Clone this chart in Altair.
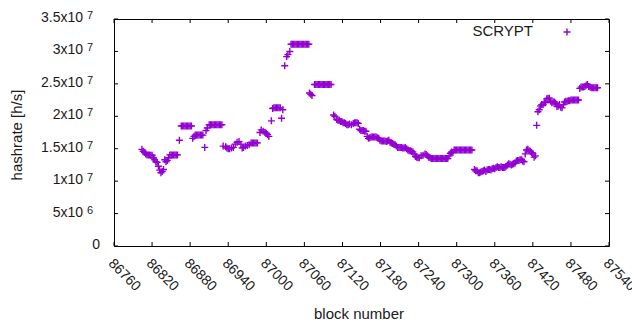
import altair as alt
import pandas as pd

PURPLE = "#9400D3"
FONT = "Liberation Sans"

# block numbers (x) and hashrate in units of 1e6 h/s (y)
blocks = [
    86804, 86806, 86808, 86810, 86812, 86814, 86816, 86818, 86820, 86822,
    86824, 86826, 86828, 86830, 86832, 86834, 86836, 86838, 86840, 86842,
    86844, 86846, 86848, 86850, 86852, 86854, 86856, 86858, 86860, 86863,
    86866, 86868, 86870, 86872, 86874, 86876, 86878, 86880, 86882, 86884,
    86886, 86888, 86890, 86892, 86894, 86896, 86898, 86900, 86903, 86905,
    86907, 86910, 86912, 86914, 86916, 86918, 86920, 86922, 86924, 86926,
    86928, 86930, 86932, 86936, 86938, 86940, 86942, 86945, 86948, 86951,
    86954, 86957, 86960, 86962, 86964, 86967, 86970, 86973, 86976, 86978,
    86980, 86982, 86984, 86986, 86990, 86992, 86995, 86998, 87000, 87002,
    87004, 87008, 87010, 87012, 87014, 87016, 87018, 87020, 87022, 87024,
    87026, 87029, 87032, 87034, 87037, 87039, 87041, 87043, 87045, 87047,
    87049, 87051, 87053, 87055, 87057, 87059, 87061, 87063, 87065, 87067,
    87068, 87070, 87072, 87076, 87078, 87080, 87082, 87084, 87086, 87088,
    87090, 87092, 87094, 87096, 87098, 87100, 87102, 87106, 87108, 87111,
    87113, 87115, 87117, 87119, 87121, 87123, 87125, 87127, 87129, 87131,
    87134, 87137, 87139, 87141, 87143, 87145, 87147, 87149, 87151, 87153,
    87155, 87157, 87159, 87161, 87163, 87165, 87167, 87169, 87171, 87173,
    87175, 87177, 87179, 87181, 87183, 87185, 87187, 87189, 87191, 87193,
    87195, 87197, 87199, 87201, 87203, 87205, 87207, 87209, 87211, 87213,
    87215, 87217, 87219, 87221, 87223, 87225, 87227, 87229, 87231, 87233,
    87235, 87237, 87239, 87241, 87244, 87247, 87250, 87252, 87254, 87256,
    87258, 87260, 87262, 87264, 87266, 87268, 87270, 87272, 87274, 87276,
    87278, 87280, 87282, 87284, 87286, 87288, 87290, 87292, 87294, 87296,
    87298, 87300, 87302, 87304, 87306, 87308, 87310, 87312, 87314, 87316,
    87318, 87320, 87322, 87324, 87328, 87330, 87332, 87334, 87336, 87338,
    87340, 87342, 87344, 87346, 87348, 87350, 87352, 87354, 87356, 87358,
    87360, 87362, 87364, 87366, 87368, 87370, 87372, 87374, 87376, 87378,
    87380, 87382, 87384, 87386, 87388, 87390, 87392, 87394, 87396, 87398,
    87400, 87402, 87404, 87406, 87408, 87410, 87412, 87414, 87416, 87418,
    87420, 87422, 87424, 87426, 87428, 87430, 87432, 87434, 87436, 87438,
    87440, 87442, 87444, 87446, 87448, 87450, 87452, 87454, 87456, 87458,
    87460, 87462, 87464, 87466, 87468, 87470, 87472, 87474, 87476, 87478,
    87480, 87482, 87484, 87486, 87488, 87490, 87492, 87494, 87496, 87498,
    87500, 87502, 87504, 87506, 87508, 87510, 87512, 87514, 87516, 87518,
    87520, 87522,
]
hashrate_mhs = [
    14.9, 14.6, 14.4, 14.2, 14.05, 14.05, 14.05, 14.0, 14.0, 13.6,
    13.3, 13.0, 12.9, 12.3, 11.7, 11.3, 11.5, 11.8, 13.3, 13.0,
    13.2, 13.6, 14.05, 14.05, 14.05, 14.05, 14.05, 14.05, 14.05, 16.3,
    18.5, 18.5, 18.5, 18.5, 18.5, 18.5, 18.5, 18.5, 18.5, 16.6,
    16.9, 17.1, 17.1, 17.1, 17.1, 17.1, 17.1, 17.1, 15.2, 17.8,
    18.2, 18.7, 18.7, 18.7, 18.7, 18.7, 18.7, 18.7, 18.7, 18.7,
    18.7, 18.7, 15.4, 15.3, 15.1, 15.0, 15.0, 15.1, 15.2, 15.7,
    16.0, 16.1, 15.7, 15.1, 15.2, 15.4, 15.5, 15.6, 15.9, 15.9,
    15.9, 15.9, 15.9, 15.9, 17.5, 17.9, 17.7, 17.5, 17.4, 17.2,
    16.9, 19.3, 21.2, 21.3, 21.3, 21.3, 21.3, 21.3, 21.3, 19.7,
    21.0, 27.8, 29.2, 29.5, 30.0, 31.1, 31.1, 31.1, 31.1, 31.1,
    31.1, 31.1, 31.1, 31.1, 31.1, 31.1, 31.1, 31.1, 31.1, 31.1,
    23.6, 23.4, 23.2, 24.9, 24.9, 24.9, 24.9, 24.9, 24.9, 24.9,
    24.9, 24.9, 24.9, 24.9, 24.9, 24.9, 24.9, 20.2, 20.0, 19.5,
    19.4, 19.4, 19.2, 19.2, 19.0, 19.0, 18.9, 18.7, 18.7, 18.8,
    18.7, 18.9, 19.0, 19.0, 19.0, 18.9, 18.0, 17.8, 17.8, 17.8,
    17.7, 17.7, 16.9, 16.6, 16.7, 16.8, 16.8, 16.8, 16.8, 16.8,
    16.7, 16.6, 16.3, 16.2, 16.2, 16.2, 16.2, 16.1, 16.2, 16.3,
    16.0, 15.9, 15.8, 15.7, 15.6, 15.4, 15.2, 15.2, 15.2, 15.2,
    15.1, 15.1, 15.2, 15.0, 14.8, 14.7, 14.7, 14.6, 14.5, 14.2,
    13.8, 13.7, 13.6, 13.6, 13.9, 14.0, 14.2, 14.1, 13.9, 13.7,
    13.6, 13.5, 13.5, 13.5, 13.5, 13.5, 13.5, 13.5, 13.5, 13.5,
    13.5, 13.5, 13.5, 13.5, 13.5, 13.9, 14.3, 14.5, 14.4, 14.8,
    14.8, 14.8, 14.8, 14.8, 14.8, 14.8, 14.8, 14.8, 14.8, 14.8,
    14.8, 14.8, 14.8, 14.8, 11.8, 11.6, 11.6, 11.3, 11.3, 11.4,
    11.5, 11.6, 11.7, 11.5, 11.7, 11.8, 11.8, 11.7, 11.9, 12.0,
    11.9, 12.1, 12.2, 12.1, 12.1, 12.2, 12.1, 12.1, 12.1, 12.3,
    12.5, 12.7, 12.6, 12.5, 12.6, 12.7, 12.8, 13.1, 13.2, 13.2,
    13.3, 13.3, 13.1, 13.0, 14.2, 14.8, 14.9, 14.7, 14.6, 14.4,
    14.2, 13.7, 13.9, 18.6, 20.7, 21.0, 21.6, 21.8, 21.8, 22.1,
    22.1, 22.7, 22.8, 22.8, 22.3, 22.1, 22.2, 22.2, 22.0, 21.5,
    21.6, 21.8, 21.4, 21.3, 21.8, 22.2, 22.3, 22.3, 22.4, 22.4,
    22.5, 22.5, 22.5, 22.5, 22.5, 22.5, 22.5, 24.3, 24.5, 24.5,
    24.5, 24.6, 24.8, 24.9, 24.6, 24.5, 24.4, 24.4, 24.4, 24.4,
    24.4, 24.4,
]
assert len(blocks) == len(hashrate_mhs)

x_tick_values = [86760, 86820, 86880, 86940, 87000, 87060, 87120,
                 87180, 87240, 87300, 87360, 87420, 87480, 87540]
x_tick_labels = [str(b) for b in x_tick_values]
y_tick_values = [0, 5, 10, 15, 20, 25, 30, 35]
y_tick_mantissa = ["0", "5x10", "1x10", "1.5x10", "2x10", "2.5x10", "3x10", "3.5x10"]
y_tick_exponent = ["", "6", "7", "7", "7", "7", "7", "7"]
series_name = ["SCRYPT"]

W, H = 495, 227
PLUS = "M-1,0L1,0M0,-1L0,1"
TXT = "#1a1a1a"

pts = pd.DataFrame({"block": blocks, "v": hashrate_mhs})
xt = pd.DataFrame({"block": x_tick_values, "lab": x_tick_labels})
yt = pd.DataFrame({"v": y_tick_values, "mant": y_tick_mantissa, "exp": y_tick_exponent})
leg = pd.DataFrame({"name": series_name})

xscale = alt.Scale(domain=[86760, 87540], nice=False, zero=False)
yscale = alt.Scale(domain=[0, 35], nice=False, zero=True)

points = alt.Chart(pts).mark_point(
    shape=PLUS, size=49, filled=False, strokeWidth=1.4, color=PURPLE, opacity=1
).encode(
    x=alt.X("block:Q", scale=xscale, axis=None),
    y=alt.Y("v:Q", scale=yscale, axis=None),
)

xticks_bottom = alt.Chart(xt).mark_rule(color="black").encode(
    x=alt.X("block:Q", scale=xscale, axis=None), y=alt.value(H), y2=alt.value(H - 4))
xticks_top = alt.Chart(xt).mark_rule(color="black").encode(
    x=alt.X("block:Q", scale=xscale, axis=None), y=alt.value(0), y2=alt.value(4))
yticks_left = alt.Chart(yt).mark_rule(color="black").encode(
    y=alt.Y("v:Q", scale=yscale, axis=None), x=alt.value(0), x2=alt.value(4))
yticks_right = alt.Chart(yt).mark_rule(color="black").encode(
    y=alt.Y("v:Q", scale=yscale, axis=None), x=alt.value(W), x2=alt.value(W - 4))

xlabels = alt.Chart(xt).mark_text(
    angle=45, align="left", baseline="top", dx=2, font=FONT, fontSize=14, color=TXT
).encode(x=alt.X("block:Q", scale=xscale, axis=None), y=alt.value(H + 9), text="lab:N")

# y tick labels: mantissa + raised exponent (gnuplot style "3x10^7")
ylab_main = alt.Chart(yt).transform_filter("datum.exp != ''").mark_text(
    align="right", baseline="middle", dy=-1, font=FONT, fontSize=14, color=TXT
).encode(y=alt.Y("v:Q", scale=yscale, axis=None), x=alt.value(-31), text="mant:N")
ylab_zero = alt.Chart(yt).transform_filter("datum.exp == ''").mark_text(
    align="right", baseline="middle", dy=-1, font=FONT, fontSize=14, color=TXT
).encode(y=alt.Y("v:Q", scale=yscale, axis=None), x=alt.value(-14), text="mant:N")
ylab_exp = alt.Chart(yt).transform_filter("datum.exp != ''").mark_text(
    align="left", baseline="alphabetic", dy=0, font=FONT, fontSize=11, color=TXT
).encode(y=alt.Y("v:Q", scale=yscale, axis=None), x=alt.value(-27), text="exp:N")

ytitle = alt.Chart(leg).mark_text(
    angle=270, align="center", baseline="middle", font=FONT, fontSize=15, color=TXT
).encode(x=alt.value(-97), y=alt.value(116), text=alt.value("hashrate [h/s]"))
xtitle = alt.Chart(leg).mark_text(
    align="center", baseline="alphabetic", font=FONT, fontSize=15, color=TXT
).encode(x=alt.value(245), y=alt.value(300), text=alt.value("block number"))

leg_text = alt.Chart(leg).mark_text(
    align="right", baseline="middle", font=FONT, fontSize=15, color=TXT
).encode(x=alt.value(419), y=alt.value(12), text="name:N")
leg_sym = alt.Chart(leg).mark_point(
    shape=PLUS, size=49, filled=False, strokeWidth=1.4, color=PURPLE, opacity=1
).encode(x=alt.value(453), y=alt.value(13))

chart = alt.layer(
    points, xticks_bottom, xticks_top, yticks_left, yticks_right, xlabels,
    ylab_main, ylab_zero, ylab_exp, ytitle, xtitle, leg_text, leg_sym
).properties(
    width=W, height=H,
    autosize=alt.AutoSizeParams(type="none"),
    padding={"left": 106, "top": 11, "right": 23, "bottom": 76},
).configure_view(stroke="black", strokeWidth=1)

chart.save("out.html", embed_options={"renderer": "svg", "actions": False})
